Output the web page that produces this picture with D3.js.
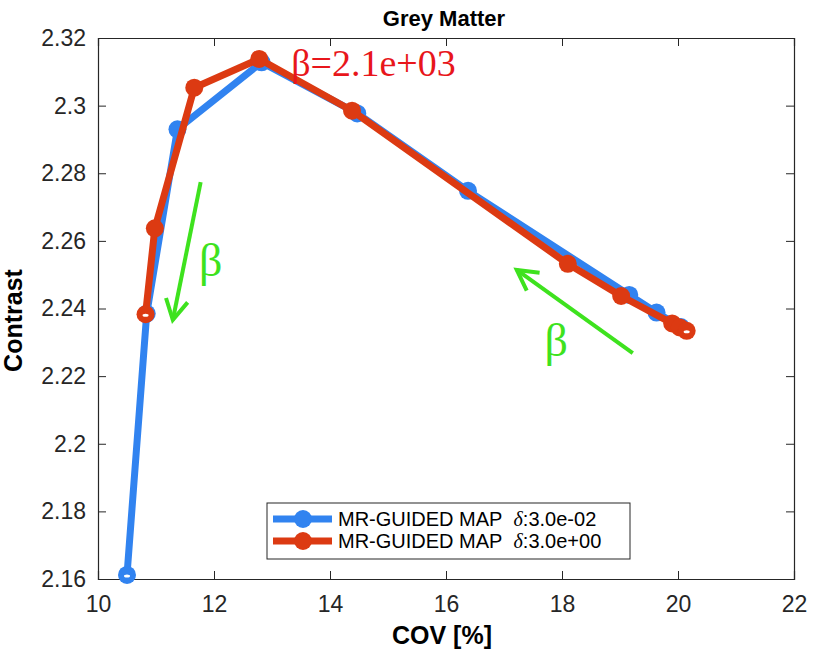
<!DOCTYPE html>
<html>
<head>
<meta charset="utf-8">
<script src="https://cdn.jsdelivr.net/npm/d3@7"></script>
<style>
  body { margin: 0; background: #fff; }
  svg { display: block; }
</style>
</head>
<body>
<div id="chart"></div>
<script>
// data
var blueX = [10.50, 10.84, 11.37, 12.82, 14.47, 16.38, 19.16, 19.63, 20.05];
var blueY = [2.1612, 2.2385, 2.2930, 2.3128, 2.2977, 2.2748, 2.2440, 2.2388, 2.2345];
var redX = [10.82, 10.98, 11.66, 12.78, 14.38, 18.10, 19.02, 19.90, 20.03, 20.15];
var redY = [2.2383, 2.2637, 2.3053, 2.3138, 2.2985, 2.2532, 2.2437, 2.2356, 2.2344, 2.2334];
var xTicks = [10, 12, 14, 16, 18, 20, 22];
var yTicks = [2.16, 2.18, 2.2, 2.22, 2.24, 2.26, 2.28, 2.3, 2.32];
var seriesNames = ["MR-GUIDED MAP", "MR-GUIDED MAP"];
var seriesDelta = ["3.0e-02", "3.0e+00"];

var width = 813, height = 652;
var mLeft = 98, mRight = 794, mTop = 38, mBottom = 579;
var blue = "#3183f0", red = "#dc3a12", green = "#3ee21e", axisColor = "#262626";

var x = d3.scaleLinear().domain([10, 22]).range([mLeft, mRight]);
var y = d3.scaleLinear().domain([2.16, 2.32]).range([mBottom, mTop]);

var svg = d3.select("#chart").append("svg")
  .attr("width", width)
  .attr("height", height);

// axes
svg.append("g")
  .attr("transform", "translate(0," + mBottom + ")")
  .call(d3.axisBottom(x).tickValues(xTicks).tickSize(-8).tickPadding(17).tickFormat(d3.format("d")));
svg.append("g")
  .attr("transform", "translate(0," + mTop + ")")
  .call(d3.axisTop(x).tickValues(xTicks).tickSize(-8).tickFormat(""));
svg.append("g")
  .attr("transform", "translate(" + mLeft + ",0)")
  .call(d3.axisLeft(y).tickValues(yTicks).tickSize(-8).tickPadding(12).tickFormat(d => String(+d.toFixed(2))));
svg.append("g")
  .attr("transform", "translate(" + mRight + ",0)")
  .call(d3.axisRight(y).tickValues(yTicks).tickSize(-8).tickFormat(""));

svg.selectAll(".domain").attr("stroke", axisColor).attr("stroke-width", 1.2);
svg.selectAll(".tick line").attr("stroke", axisColor);
svg.selectAll(".tick text")
  .attr("fill", axisColor)
  .style("font-family", "'Liberation Sans', Arial, sans-serif")
  .style("font-size", "23px");

// title and axis labels
svg.append("text")
  .attr("x", (mLeft + mRight) / 2 - 2)
  .attr("y", 26)
  .attr("text-anchor", "middle")
  .style("font-family", "'Liberation Sans', Arial, sans-serif")
  .style("font-weight", "bold")
  .style("font-size", "22px")
  .text("Grey Matter");

svg.append("text")
  .attr("x", (mLeft + mRight) / 2 - 4)
  .attr("y", 644)
  .attr("text-anchor", "middle")
  .style("font-family", "'Liberation Sans', Arial, sans-serif")
  .style("font-weight", "bold")
  .style("font-size", "25px")
  .text("COV [%]");

svg.append("text")
  .attr("transform", "translate(22," + ((mTop + mBottom) / 2 + 12) + ") rotate(-90)")
  .attr("text-anchor", "middle")
  .style("font-family", "'Liberation Sans', Arial, sans-serif")
  .style("font-weight", "bold")
  .style("font-size", "25px")
  .text("Contrast");

// series
function drawSeries(xs, ys, color, hollowIdx) {
  var pts = xs.map((v, i) => [v, ys[i]]);
  var line = d3.line().x(d => x(d[0])).y(d => y(d[1]));
  svg.append("path")
    .attr("d", line(pts))
    .attr("fill", "none")
    .attr("stroke", color)
    .attr("stroke-width", 7)
    .attr("stroke-linejoin", "round");
  svg.selectAll(null)
    .data(pts)
    .join("circle")
    .attr("cx", d => x(d[0]))
    .attr("cy", d => y(d[1]))
    .attr("r", 9)
    .attr("fill", color);
  // small white spot on first / last markers
  svg.selectAll(null)
    .data(hollowIdx.map(i => pts[i]))
    .join("ellipse")
    .attr("cx", d => x(d[0]))
    .attr("cy", d => y(d[1]) + 1)
    .attr("rx", 3)
    .attr("ry", 1.5)
    .attr("fill", "#fff");
}
drawSeries(blueX, blueY, blue, [0]);
drawSeries(redX, redY, red, [0, redX.length - 1]);

// beta annotation
svg.append("text")
  .attr("x", x(13.33))
  .attr("y", y(2.3087))
  .attr("fill", "#e8161b")
  .style("font-family", "'Liberation Serif', 'Times New Roman', serif")
  .style("font-size", "38px")
  .text("\u03b2=2.1e+03");

// green arrows showing beta direction
function arrow(x0, y0, x1, y1) {
  var px0 = x(x0), py0 = y(y0), px1 = x(x1), py1 = y(y1);
  var ang = Math.atan2(py0 - py1, px0 - px1);
  var len = 23, spread = 0.5;
  svg.append("line")
    .attr("x1", px0).attr("y1", py0).attr("x2", px1).attr("y2", py1)
    .attr("stroke", green).attr("stroke-width", 4);
  svg.append("polyline")
    .attr("points", [
      [px1 + len * Math.cos(ang + spread), py1 + len * Math.sin(ang + spread)],
      [px1, py1],
      [px1 + len * Math.cos(ang - spread), py1 + len * Math.sin(ang - spread)]
    ].map(p => p.join(",")).join(" "))
    .attr("fill", "none")
    .attr("stroke", green)
    .attr("stroke-width", 4);
}
arrow(11.77, 2.2774, 11.29, 2.2366);
arrow(19.22, 2.2268, 17.22, 2.2514);

[[11.74, 2.2496], [17.70, 2.2260]].forEach(function(p) {
  svg.append("text")
    .attr("x", x(p[0]))
    .attr("y", y(p[1]))
    .attr("fill", green)
    .style("font-family", "'Liberation Serif', 'Times New Roman', serif")
    .style("font-size", "46px")
    .text("\u03b2");
});

// legend
var lg = svg.append("g").attr("transform", "translate(267,503)");
lg.append("rect")
  .attr("width", 363).attr("height", 56)
  .attr("fill", "#fff").attr("stroke", axisColor).attr("stroke-width", 1);
[blue, red].forEach(function(c, i) {
  var yy = 16 + i * 22;
  lg.append("line")
    .attr("x1", 6).attr("x2", 65).attr("y1", yy).attr("y2", yy)
    .attr("stroke", c).attr("stroke-width", 7);
  lg.append("circle").attr("cx", 36).attr("cy", yy).attr("r", 9).attr("fill", c);
  var t = lg.append("text")
    .attr("x", 71).attr("y", yy + 7)
    .attr("fill", "#000")
    .style("font-family", "'Liberation Sans', Arial, sans-serif")
    .style("font-size", "20px");
  t.append("tspan").text(seriesNames[i] + "\u00a0\u00a0");
  t.append("tspan")
    .style("font-family", "'Liberation Serif', serif")
    .style("font-style", "italic")
    .text("\u03b4");
  t.append("tspan").text(":" + seriesDelta[i]);
});
</script>
</body>
</html>
